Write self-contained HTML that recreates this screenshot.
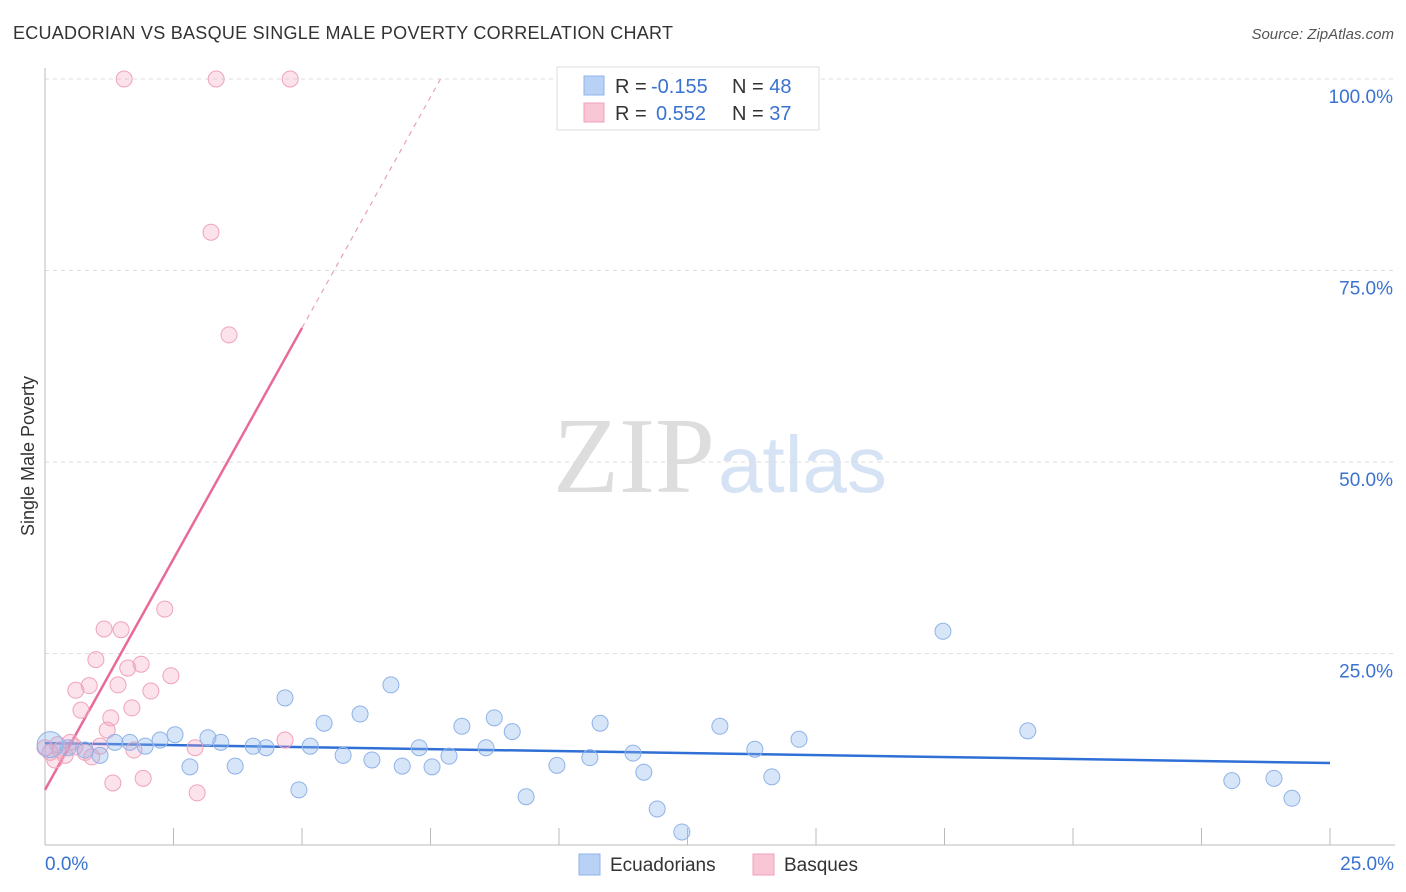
<!DOCTYPE html>
<html><head><meta charset="utf-8"><style>
body{margin:0;background:#fff;font-family:"Liberation Sans",sans-serif;}
svg{display:block}
</style></head><body>
<svg id="chart" width="1406" height="892" viewBox="0 0 1406 892">
<text x="13" y="39" font-size="18" fill="#333" textLength="660">ECUADORIAN VS BASQUE SINGLE MALE POVERTY CORRELATION CHART</text>
<text x="1394" y="39" font-size="15" font-style="italic" fill="#555" text-anchor="end">Source: ZipAtlas.com</text>
<text x="715" y="492" font-size="108" fill="#ddd" text-anchor="end" font-family="Liberation Serif,serif">ZIP</text>
<text x="718" y="492" font-size="80" fill="#d6e3f5">atlas</text>
<text transform="translate(34,456) rotate(-90)" font-size="18" fill="#333" text-anchor="middle">Single Male Poverty</text>
<g id="grid"></g><g id="axes"></g><g id="trends"></g><g id="points"></g>
<g>
<rect x="557" y="67" width="262" height="63" fill="#fff" stroke="#ddd"/>
<rect x="584" y="76" width="20" height="19" fill="#b8d2f5" stroke="#8fb3e8"/>
<rect x="584" y="103" width="20" height="19" fill="#f9c6d5" stroke="#f0a3bb"/>
<text x="615" y="93" font-size="20" fill="#333">R = <tspan fill="#3a72d0" x="651">-0.155</tspan><tspan x="732">N = </tspan><tspan fill="#3a72d0">48</tspan></text>
<text x="615" y="120" font-size="20" fill="#333">R = <tspan fill="#3a72d0" x="656">0.552</tspan><tspan x="732">N = </tspan><tspan fill="#3a72d0">37</tspan></text>
</g>
<g>
<rect x="579" y="854" width="21" height="21" fill="#b8d2f5" stroke="#8fb3e8"/>
<text x="610" y="871" font-size="19" fill="#333">Ecuadorians</text>
<rect x="753" y="854" width="21" height="21" fill="#f9c6d5" stroke="#f0a3bb"/>
<text x="784" y="871" font-size="19" fill="#333">Basques</text>
</g>
</svg>
<script>
const blueX=[0.10,0.45,0.78,1.07,1.36,1.65,1.95,2.24,2.53,2.82,3.17,3.42,3.70,4.05,4.30,4.67,4.94,5.16,5.43,5.80,6.13,6.36,6.73,6.95,7.28,7.53,7.86,8.11,8.58,8.74,9.09,9.36,9.96,10.60,10.80,11.44,11.65,11.91,12.39,13.13,13.81,14.14,14.67,17.47,19.12,23.09,23.91,24.26];
const blueY=[13.1,12.7,12.4,11.7,13.4,13.4,12.9,13.7,14.4,10.2,14.0,13.4,10.3,12.9,12.7,19.2,7.2,12.9,15.9,11.7,17.1,11.1,20.9,10.3,12.7,10.2,11.6,15.5,12.7,16.6,14.8,6.3,10.4,11.4,15.9,12.0,9.5,4.7,1.7,15.5,12.5,8.9,13.8,27.9,14.9,8.4,8.7,6.1];
const pinkX=[1.54,3.33,4.77,3.23,3.58,2.33,1.15,1.48,0.99,1.87,1.61,2.45,0.86,0.60,1.42,2.06,0.70,1.69,1.28,1.21,4.67,2.92,1.73,1.07,0.49,0.29,0.10,0.19,0.39,0.91,1.32,1.91,2.96,0.58,0.78,0.00,0.25];
const pinkY=[100,100,100,80.0,66.6,30.8,28.2,28.1,24.2,23.6,23.1,22.1,20.8,20.2,20.9,20.1,17.6,17.9,16.6,15.0,13.7,12.7,12.4,12.9,13.4,12.4,12.1,11.1,11.7,11.5,8.1,8.7,6.8,12.8,12.1,12.7,13.1];
const yTicks=[25,50,75,100];
const yTickLabels=["25.0%","50.0%","75.0%","100.0%"];
const xTicks=[0,2.5,5,7.5,10,12.5,15,17.5,20,22.5,25];
const blueTrend=[13.3,10.7];
const pinkTrend=[7.2,12.06];
const NS="http://www.w3.org/2000/svg";
const sx=v=>45+v/25*1285, sy=v=>845-v/100*766;
function mk(tag,attrs,parent){const e=document.createElementNS(NS,tag);for(const k in attrs)e.setAttribute(k,attrs[k]);document.getElementById(parent).appendChild(e);return e;}
yTicks.forEach((t,i)=>{
 const l=mk('line',{x1:45,x2:1395,y1:sy(t),y2:sy(t),stroke:'#ddd','stroke-dasharray':'4,4'},'grid');
 
 
 const tx=mk('text',{x:1393,y:sy(t)+24,'font-size':19,fill:'#3a72d0','text-anchor':'end'},'grid');
 tx.textContent=yTickLabels[i];
 
 
});
mk('line',{x1:45,x2:45,y1:68,y2:845,stroke:'#bbb'},'axes');
mk('line',{x1:45,x2:1395,y1:845,y2:845,stroke:'#bbb'},'axes');
xTicks.forEach(t=>{const l=mk('line',{x1:sx(t),x2:sx(t),y1:828,y2:845,stroke:'#bbb'},'axes');
 
 });
const x0=mk('text',{x:45,y:870,'font-size':19,fill:'#3a72d0'},'axes');x0.textContent='0.0%';


const x1=mk('text',{x:1394,y:870,'font-size':19,fill:'#3a72d0','text-anchor':'end'},'axes');x1.textContent='25.0%';


const bt=mk('line',{x1:sx(0),y1:sy(blueTrend[0]),x2:sx(25),y2:sy(blueTrend[1]),stroke:'#2f6fd6','stroke-width':2.5},'trends');


const xe=5, xd=(100-pinkTrend[0])/pinkTrend[1];
const pt=mk('line',{x1:sx(0),y1:sy(pinkTrend[0]),x2:sx(xe),y2:sy(pinkTrend[0]+pinkTrend[1]*xe),stroke:'#e8699a','stroke-width':2.5},'trends');


const pd=mk('line',{x1:sx(xe),y1:sy(pinkTrend[0]+pinkTrend[1]*xe),x2:sx(xd),y2:sy(100),stroke:'#e8a0bb','stroke-width':1.2,'stroke-dasharray':'5,5'},'trends');


pinkX.forEach((v,i)=>{const c=mk('circle',{cx:sx(v),cy:sy(pinkY[i]),r:8,fill:'rgba(245,160,190,0.3)',stroke:'#f0a3bb','stroke-width':1},'points');
 
 });
blueX.forEach((v,i)=>{const c=mk('circle',{cx:sx(v),cy:sy(blueY[i]),r:i===0?13:8,fill:'rgba(140,180,235,0.35)',stroke:'#8fb3e8','stroke-width':1},'points');
 
 });
</script>
</body></html>
